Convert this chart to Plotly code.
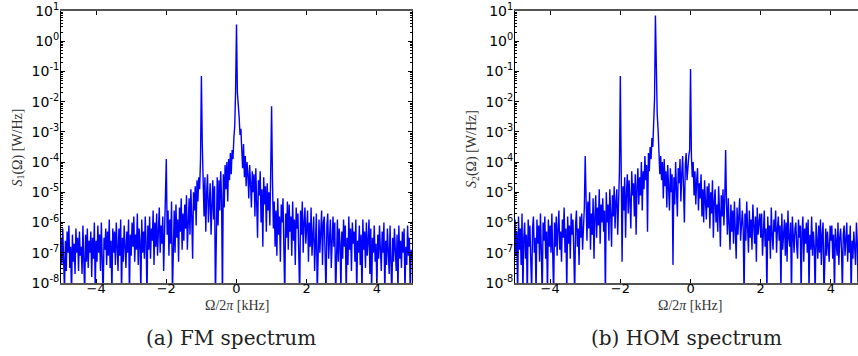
import numpy as np
import plotly.graph_objects as go

# Frequency grid (kHz), 0.025 kHz spacing, -5 .. 5
freq_khz = np.round(np.linspace(-5.0, 5.0, 401), 3)

# FM spectrum S1, log10 of W/Hz
s1_log10 = [
    -6.5,-7.4,-6.2,-7.1,-8.3,-6.6,-7.6,-6.3,-7.0,-6.1,-7.5,-6.8,-8.5,-6.4,-7.3,-6.7,-7.7,-6.2,-7.0,-6.5,
    -7.6,-6.3,-7.1,-6.8,-7.7,-6.1,-6.9,-8.4,-6.4,-7.3,-6.2,-7.5,-6.6,-7.0,-6.3,-7.8,-6.5,-7.2,-6.0,-8.3,
    -6.6,-7.3,-6.1,-7.0,-6.4,-7.6,-6.0,-7.2,-8.5,-6.5,-6.9,-6.2,-7.4,-6.3,-7.1,-5.9,-7.5,-6.6,-8.4,-6.2,
    -7.0,-6.3,-7.4,-6.0,-6.8,-7.6,-6.2,-7.1,-5.9,-8.4,-6.5,-7.3,-6.1,-6.9,-7.5,-6.3,-7.0,-5.9,-8.5,-6.4,
    -7.1,-6.0,-6.8,-5.8,-7.3,-6.4,-6.9,-5.7,-7.4,-6.2,-6.6,-8.4,-5.9,-7.0,-6.3,-7.2,-5.8,-6.7,-8.5,-6.1,
    -6.9,-5.8,-7.2,-6.2,-6.6,-5.6,-7.4,-6.0,-6.8,-5.7,-7.1,-6.3,-5.5,-7.0,-6.1,-6.7,-5.8,-7.6,-6.2,-5.9,
    -3.9,-6.4,-5.6,-7.1,-5.9,-6.7,-5.3,-8.4,-6.2,-5.6,-7.0,-5.4,-6.5,-5.9,-7.3,-5.5,-6.3,-5.2,-6.9,-5.7,
    -6.6,-5.4,-6.2,-5.1,-6.9,-5.6,-5.2,-6.4,-4.9,-5.8,-7.2,-5.0,-5.6,-4.8,-6.1,-4.6,-5.3,-4.5,-4.9,-3.9,
    -1.15,-3.4,-4.6,-5.8,-4.5,-6.3,-5.0,-4.4,-6.0,-5.3,-4.7,-6.4,-5.1,-4.6,-5.9,-4.8,-8.6,-5.4,-4.5,-6.1,
    -4.6,-5.6,-4.3,-5.2,-8.6,-4.4,-5.5,-4.1,-4.9,-4.0,-5.3,-3.9,-4.6,-3.7,-4.4,-3.6,-3.9,-3.2,-2.8,-1.6,
    0.55,-1.7,-2.4,-2.5,-3.1,-2.9,-3.6,-4.2,-3.4,-4.5,-3.8,-4.8,-4.0,-4.4,-5.2,-4.1,-4.7,-5.5,-4.3,-5.0,
    -4.4,-5.8,-4.2,-5.3,-6.5,-4.6,-5.1,-4.3,-6.0,-4.9,-6.8,-4.5,-5.4,-4.8,-6.3,-4.7,-5.6,-5.0,-6.1,-4.3,
    -2.15,-4.6,-6.2,-5.3,-6.8,-5.6,-7.1,-5.2,-6.4,-5.8,-7.3,-5.4,-6.0,-5.2,-6.7,-8.5,-5.7,-6.5,-5.3,-6.9,
    -5.4,-6.3,-5.8,-7.1,-5.3,-6.6,-5.9,-7.4,-5.5,-6.2,-5.7,-6.9,-8.5,-5.6,-6.4,-5.3,-7.0,-6.0,-5.5,-6.7,
    -6.1,-5.6,-7.3,-6.0,-6.8,-5.5,-7.1,-6.3,-5.8,-7.6,-6.2,-5.7,-8.4,-6.5,-5.9,-7.0,-6.3,-5.6,-7.4,-6.0,
    -5.8,-6.9,-8.4,-6.1,-5.7,-7.2,-6.4,-5.9,-7.5,-6.2,-5.8,-6.8,-6.0,-8.5,-6.6,-5.9,-7.3,-6.2,-6.7,-8.3,
    -6.3,-7.2,-5.9,-6.8,-6.1,-8.4,-6.5,-7.4,-5.8,-6.9,-6.2,-7.6,-6.0,-6.7,-6.3,-7.3,-5.9,-8.4,-6.6,-7.0,
    -6.1,-7.4,-6.4,-8.5,-5.9,-6.9,-6.3,-7.5,-6.0,-7.1,-6.6,-5.9,-7.7,-6.2,-8.4,-6.5,-7.0,-6.1,-7.3,-6.7,
    -8.3,-6.4,-7.2,-6.1,-6.9,-7.6,-6.3,-7.0,-6.0,-8.4,-6.6,-7.4,-6.2,-6.8,-7.7,-6.1,-7.1,-8.5,-6.5,-7.3,
    -6.2,-6.9,-7.6,-6.4,-8.4,-6.1,-7.2,-6.6,-7.5,-6.3,-7.0,-6.2,-8.3,-6.8,-7.4,-6.1,-7.1,-6.5,-8.5,-6.9,
    -7.2,
]

# HOM spectrum S2, log10 of W/Hz
s2_log10 = [
    -5.9,-7.1,-6.3,-8.5,-5.8,-6.9,-6.2,-7.4,-5.7,-8.4,-6.5,-6.0,-7.2,-6.4,-8.6,-5.9,-6.8,-6.1,-7.3,-8.3,
    -6.2,-5.8,-7.0,-6.5,-8.4,-5.9,-6.7,-6.1,-7.3,-5.7,-6.9,-8.5,-6.0,-6.6,-5.8,-7.2,-6.3,-8.4,-5.9,-6.8,
    -6.1,-7.0,-5.7,-6.6,-8.4,-6.0,-6.8,-5.8,-7.1,-6.2,-5.6,-6.9,-6.3,-7.3,-5.9,-6.5,-5.5,-7.0,-6.2,-8.3,
    -5.8,-6.7,-6.1,-7.2,-5.7,-6.4,-5.9,-7.0,-8.4,-6.1,-5.6,-6.8,-6.2,-7.4,-5.8,-6.5,-5.7,-6.9,-6.0,-5.5,
    -3.8,-5.6,-6.6,-5.3,-6.2,-5.0,-6.9,-5.7,-6.4,-5.2,-7.2,-5.8,-5.1,-6.5,-5.5,-6.1,-4.9,-6.7,-5.4,-6.0,
    -5.2,-6.3,-5.6,-8.5,-5.0,-6.0,-5.4,-6.6,-4.9,-5.7,-6.8,-5.1,-5.8,-4.8,-6.2,-5.3,-4.9,-6.4,-5.0,-4.3,
    -1.15,-4.4,-7.3,-4.8,-5.6,-4.5,-6.5,-5.0,-4.4,-5.7,-4.6,-5.3,-6.2,-4.3,-5.1,-4.7,-5.8,-4.4,-6.4,-4.8,
    -4.2,-5.4,-4.5,-5.1,-4.0,-5.6,-4.3,-4.9,-3.8,-4.6,-4.1,-6.3,-3.7,-4.3,-3.5,-3.9,-3.2,-3.5,-2.7,-1.9,
    0.85,-1.9,-2.4,-2.9,-3.5,-4.4,-3.8,-4.6,-4.0,-5.2,-3.9,-4.8,-4.3,-5.5,-4.1,-4.9,-5.6,-4.2,-5.0,-4.4,
    -7.4,-4.5,-5.4,-4.0,-5.0,-5.8,-4.2,-4.7,-3.9,-5.3,-4.4,-3.8,-4.9,-6.0,-4.1,-3.7,-4.6,-4.0,-3.8,-3.6,
    -0.92,-3.8,-4.5,-4.0,-5.1,-4.3,-5.4,-4.6,-4.2,-5.6,-4.7,-5.2,-4.4,-5.8,-4.9,-6.0,-4.6,-5.3,-5.9,-4.8,
    -5.5,-4.7,-6.2,-5.0,-5.7,-4.6,-6.5,-5.3,-4.9,-6.0,-5.4,-6.3,-4.8,-5.6,-6.8,-5.1,-5.8,-4.9,-6.1,-5.2,
    -3.6,-5.4,-6.4,-5.2,-6.0,-6.9,-5.4,-6.3,-5.6,-6.7,-5.3,-6.1,-7.2,-5.5,-6.4,-5.8,-5.2,-6.6,-6.0,-5.6,
    -6.2,-8.5,-5.7,-6.6,-5.3,-6.3,-7.0,-5.6,-6.5,-5.9,-6.9,-5.4,-6.1,-6.7,-5.8,-7.3,-5.5,-6.4,-6.0,-5.7,
    -6.5,-5.7,-7.1,-6.0,-5.6,-6.8,-6.2,-8.4,-5.8,-6.6,-6.1,-7.2,-5.5,-6.4,-6.9,-5.9,-6.3,-5.6,-7.0,-6.2,
    -5.8,-6.6,-6.1,-8.3,-5.7,-6.9,-6.3,-5.9,-7.1,-6.0,-7.3,-5.6,-6.5,-6.8,-6.0,-8.5,-5.8,-6.4,-7.0,-6.2,
    -6.0,-6.8,-7.2,-5.9,-6.5,-6.1,-8.4,-6.3,-5.8,-7.3,-6.2,-6.7,-6.0,-7.0,-5.9,-8.3,-6.4,-6.9,-5.8,-7.1,
    -6.3,-6.8,-8.5,-6.0,-6.6,-7.2,-6.1,-7.0,-5.9,-7.4,-6.4,-6.0,-8.4,-6.7,-6.2,-7.1,-6.3,-6.8,-7.3,-6.1,
    -6.6,-6.1,-7.2,-6.4,-8.4,-6.2,-6.8,-7.1,-6.0,-7.4,-6.5,-6.2,-6.9,-8.3,-6.4,-6.1,-7.1,-6.7,-6.0,-7.3,
    -6.4,-7.0,-6.1,-8.5,-6.6,-7.2,-6.3,-6.8,-7.4,-6.0,-6.7,-8.4,-6.3,-7.1,-6.2,-6.9,-6.0,-7.2,-6.6,-6.8,
    -6.8,
]

assert len(s1_log10) == len(freq_khz) and len(s2_log10) == len(freq_khz)

x_tickvals = [-4, -2, 0, 2, 4]
x_ticktext = ["\u22124", "\u22122", "0", "2", "4"]
y_decades = list(range(-8, 2))
y_ticktext = ["10<sup>%d</sup>" % d for d in y_decades]
captions = ["(a) FM spectrum", "(b) HOM spectrum"]
y_titles = ["<i>S</i><sub>1</sub>(Ω) [W/Hz]", "<i>S</i><sub>2</sub>(Ω) [W/Hz]"]
x_title = "Ω/2<i>π</i> [kHz]"

s1 = [10 ** v for v in s1_log10]
s2 = [10 ** v for v in s2_log10]

W, H = 858, 356
serif = "Liberation Serif, DejaVu Serif, serif"
cap_serif = "DejaVu Serif, Liberation Serif, serif"
sans = "DejaVu Sans, sans-serif"

fig = go.Figure()
fig.add_trace(go.Scatter(x=freq_khz, y=s1, mode="lines",
                         line=dict(color="#0000ff", width=1.4), xaxis="x", yaxis="y",
                         showlegend=False, hoverinfo="skip"))
fig.add_trace(go.Scatter(x=freq_khz, y=s2, mode="lines",
                         line=dict(color="#0000ff", width=1.4), xaxis="x2", yaxis="y2",
                         showlegend=False, hoverinfo="skip"))

ydom = [1 - 283 / H, 1 - 11 / H]

def xaxis_cfg(dom, rng, anchor):
    return dict(domain=dom, range=rng, anchor=anchor, tickmode="array",
                tickvals=x_tickvals, ticktext=x_ticktext, ticks="inside", ticklen=4,
                tickcolor="black", tickwidth=1, showline=True, linecolor="#555",
                linewidth=1.5, mirror="allticks", showgrid=False, zeroline=False,
                automargin=False, ticklabelstandoff=-7,
                tickfont=dict(family=sans, size=13, color="black"))

def yaxis_cfg(anchor, mirror):
    return dict(domain=ydom, type="log", range=[-8, 1], anchor=anchor, tickmode="array",
                tickvals=[10 ** d for d in y_decades], ticktext=y_ticktext,
                ticks="inside", ticklen=4, tickcolor="black", showline=True,
                linecolor="black", linewidth=1, mirror=mirror, showgrid=False,
                zeroline=False, automargin=False, ticklabelstandoff=-2,
                minor=dict(ticks="inside", ticklen=2, dtick="D1", tickcolor="black",
                           showgrid=False),
                tickfont=dict(family=sans, size=14, color="black"))

def txt(text, x, y, size, family, angle=0, color="#333"):
    return dict(text=text, x=x / W, y=1 - y / H, xref="paper", yref="paper",
                showarrow=False, font=dict(family=family, size=size, color=color),
                xanchor="center", yanchor="middle", textangle=angle)

fig.update_layout(
    width=W, height=H,
    margin=dict(l=0, r=0, t=0, b=0),
    paper_bgcolor="white", plot_bgcolor="white",
    xaxis=xaxis_cfg([61 / W, 412 / W], [-5, 5], "y"),
    yaxis=yaxis_cfg("x", "allticks"),
    xaxis2=xaxis_cfg([515 / W, 1.0], [-5, 4.77], "y2"),
    yaxis2=yaxis_cfg("x2", False),
    annotations=[
        txt(x_title, 236.5, 305, 14, serif),
        txt(x_title, 690, 305, 14, serif),
        txt(y_titles[0], 18, 147.5, 14, serif, angle=-90),
        txt(y_titles[1], 472, 149, 14, serif, angle=-90),
        txt(captions[0], 231, 338, 20, cap_serif, color="#222"),
        txt(captions[1], 686, 338, 20, cap_serif, color="#222"),
    ],
)

fig.write_html("out.html", config={"displayModeBar": False},
               post_script="document.body.style.margin='0';document.body.style.overflow='hidden';")
